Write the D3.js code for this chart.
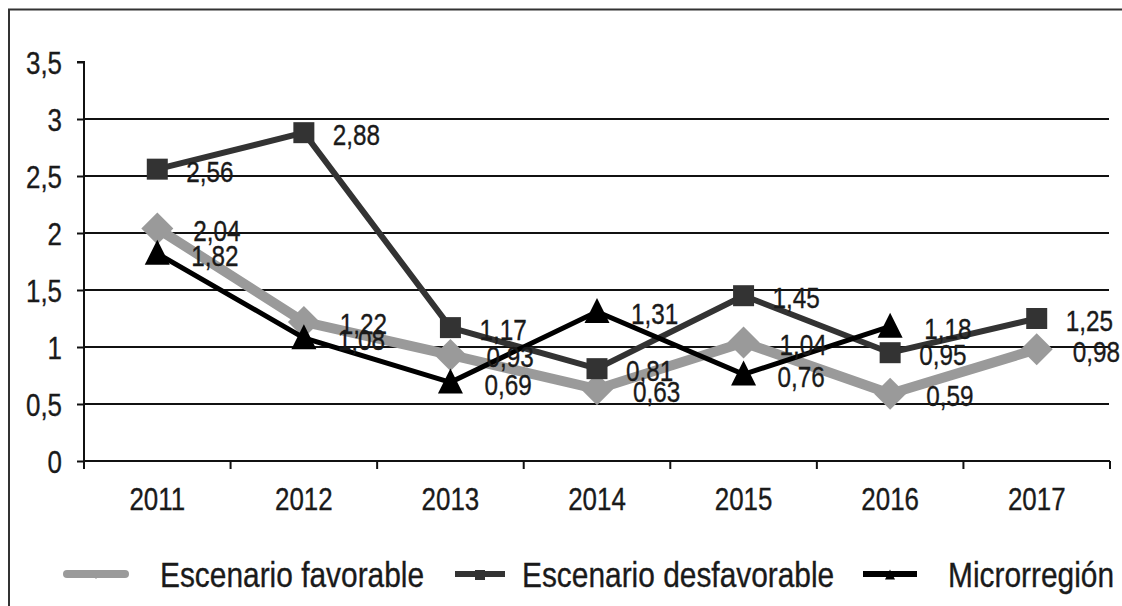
<!DOCTYPE html>
<html>
<head>
<meta charset="utf-8">
<script src="https://cdn.jsdelivr.net/npm/d3@7"></script>
<style>
  html, body { margin: 0; padding: 0; background: #fff; }
  svg { display: block; }
  text { font-family: "Liberation Sans", Arial, sans-serif; fill: #1a1a1a; stroke: #1a1a1a; stroke-width: 0.35; }
</style>
</head>
<body>
<svg id="chart" width="1122" height="606"></svg>
<script>
// Indicator by year, three scenarios
const years = ["2011", "2012", "2013", "2014", "2015", "2016", "2017"];
const favorable = [2.04, 1.22, 0.93, 0.63, 1.04, 0.59, 0.98];
const desfavorable = [2.56, 2.88, 1.17, 0.81, 1.45, 0.95, 1.25];
const microrregion = [1.82, 1.08, 0.69, 1.31, 0.76, 1.18];
const yTicks = [0, 0.5, 1, 1.5, 2, 2.5, 3, 3.5];
const seriesNames = ["Escenario favorable", "Escenario desfavorable", "Microrregión"];

const fmt = v => String(v).replace(".", ",");

const svg = d3.select("#chart");

// condensed text: horizontal squeeze around the anchor point
function label(g, x, y, s, size, anchor, sx = 0.8) {
  return g.append("text")
    .attr("transform", `translate(${x},${y}) scale(${sx},1)`)
    .attr("text-anchor", anchor)
    .attr("font-size", size)
    .text(s);
}

// outer frame
svg.append("path")
  .attr("d", "M9,606 V9.5 H1122")
  .attr("fill", "none").attr("stroke", "#333").attr("stroke-width", 2);

const x = d3.scaleBand().domain(years).range([84, 1110]);
const cx = d => x(d) + x.bandwidth() / 2;
const y = d3.scaleLinear().domain([0, 3.5]).range([461, 62]);

// gridlines
svg.append("g").selectAll("line")
  .data(yTicks.filter(t => t > 0 && t < 3.5))
  .join("line")
  .attr("x1", 84).attr("x2", 1109)
  .attr("y1", d => y(d)).attr("y2", d => y(d))
  .attr("stroke", "#111").attr("stroke-width", 2);

// y axis
const yAxis = svg.append("g").attr("transform", "translate(84,0)")
  .call(d3.axisLeft(y).tickValues(yTicks).tickSize(7).tickFormat(""));
yAxis.select(".domain").attr("stroke", "#111").attr("stroke-width", 2).attr("d", `M-7,${y(3.5)}H0V${y(0) + 8}`);
yAxis.selectAll(".tick line").attr("stroke", "#111").attr("stroke-width", 2);
const yl = svg.append("g");
yTicks.forEach(t => label(yl, 62, y(t) + 11.5, fmt(t), 32, "end", 0.81));

// x axis
const xAxis = svg.append("g").attr("transform", `translate(0,${y(0)})`)
  .call(d3.axisBottom(x).tickSize(0).tickFormat(""));
xAxis.select(".domain").attr("stroke", "#111").attr("stroke-width", 2).attr("d", "M84,0H1110");
xAxis.selectAll(".tick").remove();
svg.append("g").selectAll("line")
  .data(years.concat(["end"]))
  .join("line")
  .attr("x1", (d, i) => i < years.length ? x(d) : x.range()[1])
  .attr("x2", (d, i) => i < years.length ? x(d) : x.range()[1])
  .attr("y1", y(0)).attr("y2", y(0) + 8)
  .attr("stroke", "#111").attr("stroke-width", 2);
const xl = svg.append("g");
years.forEach(yr => label(xl, cx(yr), 510, yr, 32, "middle", 0.81));

// marker shapes
const diamond = s => `M0,${-s}L${s},0L0,${s}L${-s},0Z`;
const square = s => `M${-s},${-s}H${s}V${s}H${-s}Z`;
const triangle = s => `M0,${-s * 1.1}L${s},${s * 0.9}L${-s},${s * 0.9}Z`;

const series = [
  { name: seriesNames[0], values: favorable, color: "#9a9a9a", width: 10, shape: diamond, size: 16, dx: 36, legendSize: 4 },
  { name: seriesNames[1], values: desfavorable, color: "#333333", width: 6, shape: square, size: 10.5, dx: 29, legendSize: 5 },
  { name: seriesNames[2], values: microrregion, color: "#000000", width: 5, shape: triangle, size: 12.5, dx: 34, legendSize: 5 }
];

const line = d3.line().x(d => cx(d.year)).y(d => y(d.v));

series.forEach(s => {
  const pts = s.values.map((v, i) => ({ year: years[i], v }));
  const g = svg.append("g");
  g.append("path").datum(pts)
    .attr("d", line)
    .attr("fill", "none").attr("stroke", s.color)
    .attr("stroke-width", s.width).attr("stroke-linejoin", "miter");
  g.selectAll("path.m").data(pts).join("path")
    .attr("class", "m")
    .attr("transform", d => `translate(${cx(d.year)},${y(d.v)})`)
    .attr("d", s.shape(s.size))
    .attr("fill", s.color);
});

// value labels
const vl = svg.append("g");
series.forEach(s => {
  s.values.forEach((v, i) => {
    label(vl, cx(years[i]) + s.dx, y(v) + 12.5, fmt(v), 30, "start", 0.81);
  });
});

// legend
const legend = [
  { x1: 67, x2: 125, tx: 160 },
  { x1: 455, x2: 505, tx: 522 },
  { x1: 863, x2: 917, tx: 948 }
];
const lg = svg.append("g");
series.forEach((s, i) => {
  const L = legend[i];
  const ly = 574;
  lg.append("line")
    .attr("x1", L.x1).attr("x2", L.x2).attr("y1", ly).attr("y2", ly)
    .attr("stroke", s.color).attr("stroke-width", i === 0 ? 8 : 6)
    .attr("stroke-linecap", i === 0 ? "round" : "butt");
  lg.append("path")
    .attr("transform", `translate(${(L.x1 + L.x2) / 2},${ly + 1})`)
    .attr("d", s.shape(s.legendSize))
    .attr("fill", s.color);
  label(lg, L.tx, 587, s.name, 36, "start", 0.83);
});
</script>
</body>
</html>
